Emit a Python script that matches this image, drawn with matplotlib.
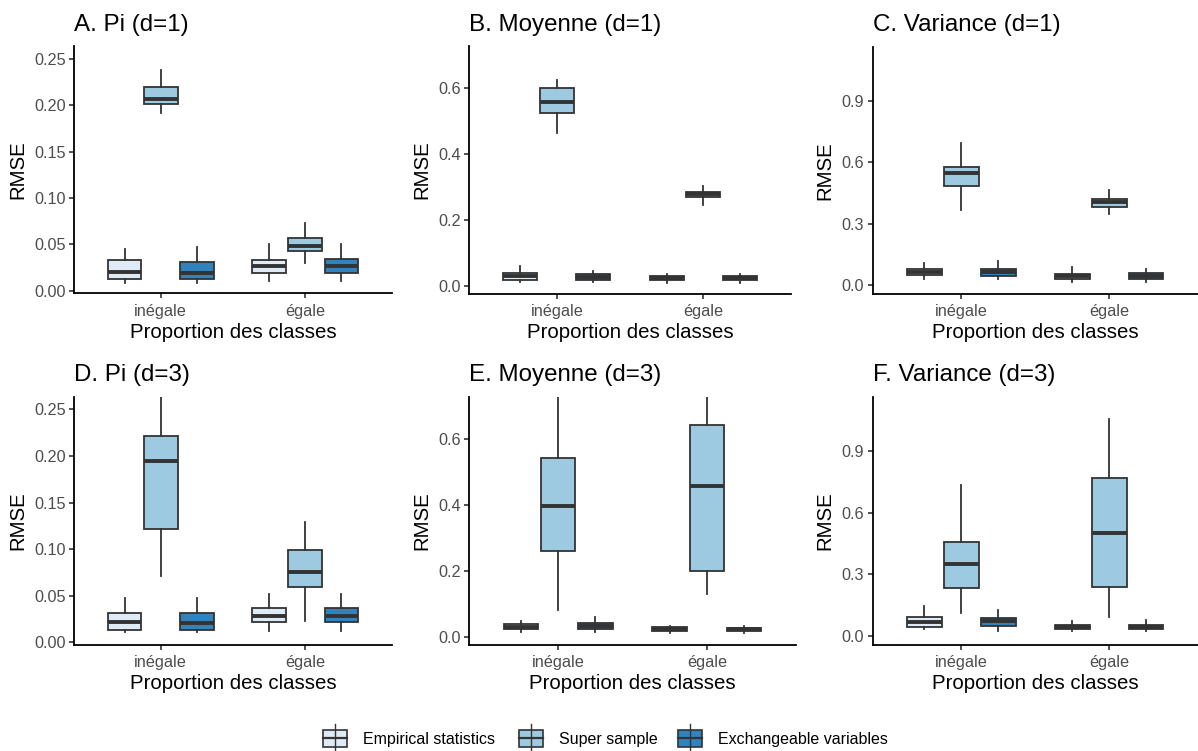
import matplotlib
matplotlib.use("Agg")
import matplotlib.pyplot as plt
from matplotlib.patches import Rectangle
from matplotlib.lines import Line2D

plt.rcParams['font.family'] = ['Liberation Sans', 'DejaVu Sans']

W, H = 1198, 751
DPI = 100

categories = ["inégale", "égale"]
methods = ["Empirical statistics", "Super sample", "Exchangeable variables"]
colors = ["#deebf7", "#9ecae1", "#3182bd"]

# five-number summaries per box: (whisker low, Q1, median, Q3, whisker high)
# order: [inégale: emp, super, exch], [égale: emp, super, exch]
pi_d1 = [
    [(0.009, 0.0133, 0.020, 0.0333, 0.0448), (0.1916, 0.2006, 0.206, 0.219, 0.238), (0.009, 0.0125, 0.019, 0.031, 0.047)],
    [(0.0107, 0.0197, 0.027, 0.0333, 0.051), (0.030, 0.0433, 0.0487, 0.0566, 0.0727), (0.0107, 0.0197, 0.027, 0.034, 0.051)],
]
moy_d1 = [
    [(0.011, 0.019, 0.029, 0.039, 0.0607), (0.462, 0.525, 0.5585, 0.601, 0.624), (0.011, 0.019, 0.028, 0.035, 0.0455)],
    [(0.009, 0.018, 0.024, 0.029, 0.037), (0.246, 0.268, 0.277, 0.285, 0.3025), (0.009, 0.017, 0.024, 0.030, 0.037)],
]
var_d1 = [
    [(0.028, 0.047, 0.062, 0.0765, 0.106), (0.369, 0.483, 0.548, 0.578, 0.695), (0.028, 0.044, 0.0635, 0.080, 0.1156)],
    [(0.016, 0.031, 0.044, 0.055, 0.086), (0.347, 0.379, 0.4036, 0.418, 0.464), (0.013, 0.031, 0.0456, 0.057, 0.0765)],
]
pi_d3 = [
    [(0.0114, 0.0132, 0.0218, 0.0314, 0.0475), (0.0714, 0.1218, 0.1943, 0.2218, 0.275), (0.0114, 0.0132, 0.0207, 0.0314, 0.0475)],
    [(0.0118, 0.0214, 0.0286, 0.0364, 0.0518), (0.0225, 0.0596, 0.075, 0.099, 0.129), (0.0118, 0.0214, 0.0286, 0.0364, 0.0518)],
]
moy_d3 = [
    [(0.016, 0.024, 0.031, 0.0374, 0.0476), (0.081, 0.260, 0.3956, 0.541, 0.78), (0.016, 0.024, 0.0334, 0.0425, 0.0607)],
    [(0.011, 0.017, 0.024, 0.029, 0.032), (0.1285, 0.2003, 0.456, 0.6425, 0.80), (0.011, 0.017, 0.024, 0.028, 0.033)],
]
var_d3 = [
    [(0.034, 0.0455, 0.0666, 0.091, 0.1446), (0.109, 0.234, 0.351, 0.4565, 0.734), (0.024, 0.047, 0.0715, 0.086, 0.128)],
    [(0.023, 0.034, 0.0455, 0.052, 0.073), (0.0926, 0.237, 0.4987, 0.770, 1.054), (0.024, 0.034, 0.0455, 0.055, 0.0796)],
]

panels = [
    ("A. Pi (d=1)", pi_d1, (-0.0025, 0.2635), [0.00, 0.05, 0.10, 0.15, 0.20, 0.25], "{:.2f}"),
    ("B. Moyenne (d=1)", moy_d1, (-0.024, 0.727), [0.0, 0.2, 0.4, 0.6], "{:.1f}"),
    ("C. Variance (d=1)", var_d1, (-0.042, 1.164), [0.0, 0.3, 0.6, 0.9], "{:.1f}"),
    ("D. Pi (d=3)", pi_d3, (-0.0025, 0.2635), [0.00, 0.05, 0.10, 0.15, 0.20, 0.25], "{:.2f}"),
    ("E. Moyenne (d=3)", moy_d3, (-0.024, 0.728), [0.0, 0.2, 0.4, 0.6], "{:.1f}"),
    ("F. Variance (d=3)", var_d3, (-0.043, 1.165), [0.0, 0.3, 0.6, 0.9], "{:.1f}"),
]

# panel rectangles in pixels: left, right, top, bottom
rects = [
    (74, 392, 46, 293.3), (469, 791, 46, 293.7), (872.7, 1198, 46.7, 293.7),
    (74, 392, 396.7, 644.7), (469, 796, 396.7, 644.7), (872.7, 1198, 396.7, 644.7),
]

fig = plt.figure(figsize=(W / DPI, H / DPI), dpi=DPI)
fig.patch.set_facecolor("white")

EDGE = "#333333"
LW = 1.3
dodge = 0.25
bw = 0.233

for (title, data, ylim, yticks, fmt), (l, r, t, b) in zip(panels, rects):
    ax = fig.add_axes([l / W, 1 - b / H, (r - l) / W, (b - t) / H])
    for ci, cat in enumerate(categories):
        for mi in range(3):
            lo, q1, med, q3, hi = data[ci][mi]
            pos = ci + 1 + (mi - 1) * dodge
            stats = [dict(whislo=lo, q1=q1, med=med, q3=q3, whishi=hi, fliers=[])]
            ax.bxp(stats, positions=[pos], widths=bw, showcaps=False, showfliers=False,
                   patch_artist=True,
                   boxprops=dict(facecolor=colors[mi], edgecolor=EDGE, linewidth=LW),
                   medianprops=dict(color=EDGE, linewidth=2.8, solid_capstyle="butt"),
                   whiskerprops=dict(color=EDGE, linewidth=LW))
    ax.set_xlim(0.4, 2.6)
    ax.set_ylim(*ylim)
    ax.set_xticks([1, 2])
    ax.set_xticklabels(categories)
    ax.set_yticks(yticks)
    ax.set_yticklabels([fmt.format(v) for v in yticks])
    for s in ["top", "right"]:
        ax.spines[s].set_visible(False)
    for s in ["left", "bottom"]:
        ax.spines[s].set_linewidth(1.3)
        ax.spines[s].set_color("black")
    ax.tick_params(axis="both", length=3.5, width=1.2, color=EDGE, labelsize=11.7,
                   labelcolor="#4d4d4d", pad=2.5)
    ax.tick_params(axis="x", pad=4)
    ax.set_title(title, loc="left", fontsize=17.4, pad=11, color="black")
    ax.set_xlabel("Proportion des classes", fontsize=14.7, labelpad=3, color="black")
    ax.set_ylabel("RMSE", fontsize=14.7, labelpad=5, color="black")

# legend drawn manually at the bottom
lax = fig.add_axes([0, 0, 1, 1])
lax.set_xlim(0, W)
lax.set_ylim(H, 0)
lax.axis("off")
key_x = [322.7, 519.3, 678]
cy = 738.3
for kx, name, col in zip(key_x, methods, colors):
    lax.add_line(Line2D([kx + 12, kx + 12], [cy - 14, cy + 14], color=EDGE, lw=1.0))
    lax.add_patch(Rectangle((kx, cy - 8.5), 24, 17, facecolor=col, edgecolor=EDGE, lw=1.2))
    lax.add_line(Line2D([kx, kx + 24], [cy, cy], color=EDGE, lw=1.6))
    lax.text(kx + 40, cy + 1, name, fontsize=11.5, va="center", ha="left", color="black")

fig.savefig("out.png", dpi=DPI, facecolor="white")
